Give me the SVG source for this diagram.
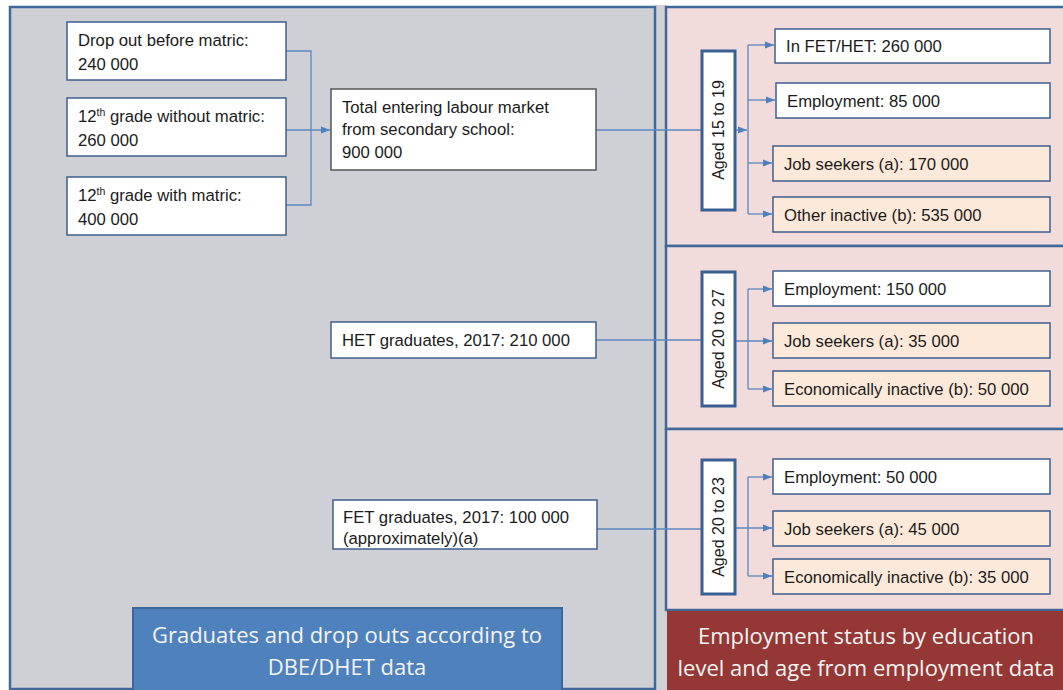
<svg xmlns="http://www.w3.org/2000/svg" width="1063" height="690" viewBox="0 0 1063 690">
  <style>
    .t { font-family: "Liberation Sans", Arial, sans-serif; font-size: 16.7px; fill: #1b1b1b; }
    .age-t { font-family: "Liberation Sans", Arial, sans-serif; font-size: 16px; fill: #1b1b1b; text-anchor: middle; }
    .title { font-family: "Open Sans", "Liberation Sans", sans-serif; font-size: 22px; fill: #f4f4f4; text-anchor: middle; }
    .box { fill: #ffffff; stroke: #3e5f8f; stroke-width: 1.5; }
    .peach { fill: #fde9d9; stroke: #3e5f8f; stroke-width: 1.5; }
    .main { fill: #ffffff; stroke: #555555; stroke-width: 1.5; }
    .age { fill: #ffffff; stroke: #3a5f93; stroke-width: 3; }
    .panel { stroke: #41679b; stroke-width: 2.5; }
    .link { fill: none; stroke: #5b87c0; stroke-width: 1.3; }
  </style>
  <defs>
    <marker id="arr" viewBox="0 0 10 10" refX="10" refY="5" markerWidth="9" markerHeight="9" markerUnits="userSpaceOnUse" orient="auto">
      <path d="M0,1 L10,5 L0,9 Z" fill="#4f7fbd"/>
    </marker>
  </defs>

  <!-- background panels -->
  <g id="panels">
    <rect x="0" y="0" width="1063" height="690" fill="#ffffff"/>
    <rect x="655" y="5" width="12" height="685" fill="#d2d2d4"/>
    <rect class="panel" x="10" y="7" width="645" height="682" fill="#cfd0d5"/>
    <rect class="panel" x="666" y="7" width="400" height="239" fill="#f1dbdb"/>
    <rect class="panel" x="666" y="246" width="400" height="183" fill="#f1dbdb"/>
    <rect class="panel" x="666" y="429" width="400" height="181" fill="#f1dbdb"/>
  </g>

  <!-- connectors -->
  <g id="connectors">
    <path class="link" d="M286,51 H311 V205 H286"/>
    <path class="link" d="M286,130 H330" marker-end="url(#arr)"/>
    <path class="link" d="M596,130 H702"/>
    <path class="link" d="M735,130 H747" marker-end="url(#arr)"/>
    <path class="link" d="M748,45 V214"/>
    <path class="link" d="M748,45 H774" marker-end="url(#arr)"/>
    <path class="link" d="M748,100 H775" marker-end="url(#arr)"/>
    <path class="link" d="M748,163 H772" marker-end="url(#arr)"/>
    <path class="link" d="M748,214 H772" marker-end="url(#arr)"/>

    <path class="link" d="M596,340 H702"/>
    <path class="link" d="M748,289 V389"/>
    <path class="link" d="M748,289 H772" marker-end="url(#arr)"/>
    <path class="link" d="M735,341 H772" marker-end="url(#arr)"/>
    <path class="link" d="M748,389 H772" marker-end="url(#arr)"/>

    <path class="link" d="M597,529 H702"/>
    <path class="link" d="M748,477 V576"/>
    <path class="link" d="M748,477 H772" marker-end="url(#arr)"/>
    <path class="link" d="M735,528 H772" marker-end="url(#arr)"/>
    <path class="link" d="M748,576 H772" marker-end="url(#arr)"/>
  </g>

  <!-- school leavers -->
  <g id="dropout">
    <rect class="box" x="67" y="22" width="219" height="58"/>
    <text class="t" x="78" y="46">Drop out before matric:</text>
    <text class="t" x="78" y="70">240 000</text>
  </g>
  <g id="grade12-no-matric">
    <rect class="box" x="67" y="98" width="219" height="58"/>
    <text class="t" x="78" y="122">12<tspan font-size="10.5" dy="-6">th</tspan><tspan dy="6"> grade without matric:</tspan></text>
    <text class="t" x="78" y="146">260 000</text>
  </g>
  <g id="grade12-matric">
    <rect class="box" x="67" y="177" width="219" height="58"/>
    <text class="t" x="78" y="201">12<tspan font-size="10.5" dy="-6">th</tspan><tspan dy="6"> grade with matric:</tspan></text>
    <text class="t" x="78" y="225">400 000</text>
  </g>
  <g id="total-secondary">
    <rect class="main" x="331" y="89" width="265" height="81"/>
    <text class="t" x="342" y="113">Total entering labour market</text>
    <text class="t" x="342" y="135">from secondary school:</text>
    <text class="t" x="342" y="158">900 000</text>
  </g>
  <g id="het-graduates">
    <rect class="box" x="331" y="322" width="265" height="36"/>
    <text class="t" x="342" y="346">HET graduates, 2017: 210 000</text>
  </g>
  <g id="fet-graduates">
    <rect class="box" x="333" y="500" width="264" height="49"/>
    <text class="t" x="343" y="523">FET graduates, 2017: 100 000</text>
    <text class="t" x="343" y="544">(approximately)(a)</text>
  </g>

  <!-- age groups -->
  <g id="age-15-19">
    <rect class="age" x="702" y="51" width="33" height="159"/>
    <text class="age-t" transform="translate(724,130) rotate(-90)">Aged 15 to 19</text>
  </g>
  <g id="age-20-27">
    <rect class="age" x="702" y="272" width="33" height="134"/>
    <text class="age-t" transform="translate(724,339) rotate(-90)">Aged 20 to 27</text>
  </g>
  <g id="age-20-23">
    <rect class="age" x="702" y="460" width="33" height="134"/>
    <text class="age-t" transform="translate(724,527) rotate(-90)">Aged 20 to 23</text>
  </g>

  <!-- outcomes, 15 to 19 -->
  <g id="in-fet-het">
    <rect class="box" x="775" y="29" width="275" height="34"/>
    <text class="t" x="786" y="52">In FET/HET: 260 000</text>
  </g>
  <g id="employment-85">
    <rect class="box" x="776" y="83" width="274" height="35"/>
    <text class="t" x="787" y="107">Employment: 85 000</text>
  </g>
  <g id="seekers-170">
    <rect class="peach" x="773" y="146" width="277" height="35"/>
    <text class="t" x="784" y="170">Job seekers (a): 170 000</text>
  </g>
  <g id="inactive-535">
    <rect class="peach" x="773" y="197" width="277" height="35"/>
    <text class="t" x="784" y="221">Other inactive (b): 535 000</text>
  </g>

  <!-- outcomes, 20 to 27 -->
  <g id="employment-150">
    <rect class="box" x="773" y="271" width="277" height="35"/>
    <text class="t" x="784" y="295">Employment: 150 000</text>
  </g>
  <g id="seekers-35">
    <rect class="peach" x="773" y="323" width="277" height="35"/>
    <text class="t" x="784" y="347">Job seekers (a): 35 000</text>
  </g>
  <g id="inactive-50">
    <rect class="peach" x="773" y="371" width="277" height="35"/>
    <text class="t" x="784" y="395">Economically inactive (b): 50 000</text>
  </g>

  <!-- outcomes, 20 to 23 -->
  <g id="employment-50">
    <rect class="box" x="773" y="459" width="277" height="35"/>
    <text class="t" x="784" y="483">Employment: 50 000</text>
  </g>
  <g id="seekers-45">
    <rect class="peach" x="773" y="511" width="277" height="35"/>
    <text class="t" x="784" y="535">Job seekers (a): 45 000</text>
  </g>
  <g id="inactive-35">
    <rect class="peach" x="773" y="559" width="277" height="35"/>
    <text class="t" x="784" y="583">Economically inactive (b): 35 000</text>
  </g>

  <!-- captions -->
  <g id="caption-left">
    <rect x="133" y="608" width="429" height="86" fill="#4f81bd" stroke="#3b679c" stroke-width="2"/>
    <text class="title" x="347" y="643">Graduates and drop outs according to</text>
    <text class="title" x="347" y="675">DBE/DHET data</text>
  </g>
  <g id="caption-right">
    <rect x="667" y="611" width="400" height="84" fill="#953735"/>
    <text class="title" x="866" y="644">Employment status by education</text>
    <text class="title" x="866" y="676">level and age from employment data</text>
  </g>
</svg>
